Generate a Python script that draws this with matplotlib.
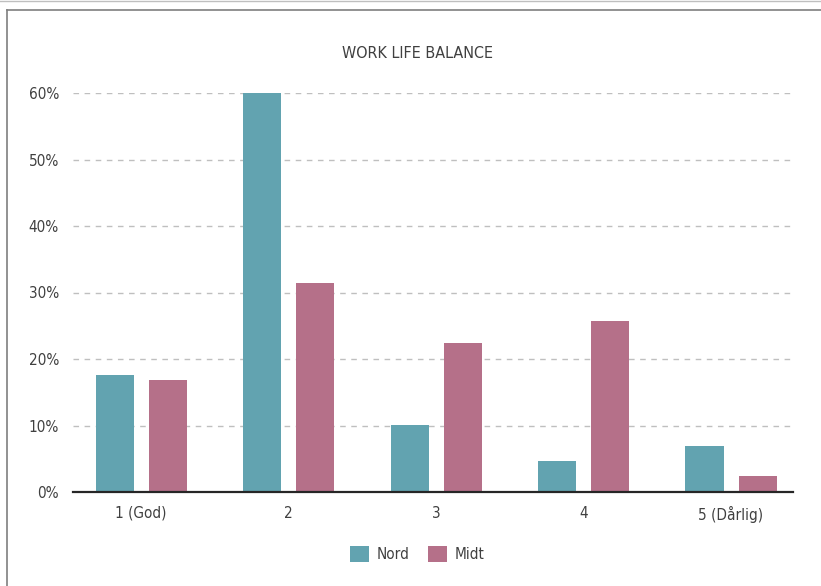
import numpy as np
import matplotlib
matplotlib.use('Agg')
import matplotlib.pyplot as plt
from matplotlib.lines import Line2D

categories = ['1 (God)', '2', '3', '4', '5 (Dårlig)']
nord = [0.176, 0.600, 0.101, 0.047, 0.069]
midt = [0.168, 0.314, 0.224, 0.257, 0.024]
yticks = [0, 0.1, 0.2, 0.3, 0.4, 0.5, 0.6]

plt.rcParams['font.family'] = ['DejaVu Sans']
plt.rcParams['font.stretch'] = 'condensed'
txt = '#404040'

fig = plt.figure(figsize=(8.21, 5.86), dpi=100)
ax = fig.add_axes([73/821, 1-492/586, 720/821, 399/586])

x = np.arange(len(categories))
w = 0.258
off = 0.18
ax.bar(x - off, nord, w, color='#62A3B0', label='Nord', zorder=3)
ax.bar(x + off, midt, w, color='#B57089', label='Midt', zorder=3)

ax.set_xlim(-0.462, 4.42)
ax.set_ylim(0, 0.6)
ax.set_yticks(yticks)
ax.set_yticklabels([f'{int(round(v*100))}%' for v in yticks], fontsize=11, color=txt)
ax.set_xticks(x)
ax.set_xticklabels(categories, fontsize=11, color=txt)
ax.tick_params(length=0, pad=10)
ax.tick_params(axis='y', pad=10)
ax.grid(axis='y', linestyle=(0, (4, 4)), color='#BFBFBF', linewidth=1, zorder=0)
for s in ['top', 'right', 'left']:
    ax.spines[s].set_visible(False)
ax.spines['bottom'].set_color('#262626')
ax.spines['bottom'].set_linewidth(1.6)
ax.spines['bottom'].set_zorder(4)

fig.text(417/821, 1-54/586, 'WORK LIFE BALANCE', ha='center', va='center', fontsize=11.5, color=txt)

fig.legend(*ax.get_legend_handles_labels(), loc='center', bbox_to_anchor=(417/821, 1-554/586),
           ncol=2, frameon=False, fontsize=11, handlelength=1.25, handleheight=1.25,
           columnspacing=1.2, handletextpad=0.5, labelcolor=txt)

# outer border
fig.add_artist(Line2D([7/821, 7/821], [0, 1-10/586], color='#7F7F7F', linewidth=1.2))
fig.add_artist(Line2D([7/821, 1], [1-10/586, 1-10/586], color='#7F7F7F', linewidth=1.2))
fig.add_artist(Line2D([0, 1], [1-0.5/586, 1-0.5/586], color='#BFBFBF', linewidth=1))

fig.savefig('out.png', dpi=100)
